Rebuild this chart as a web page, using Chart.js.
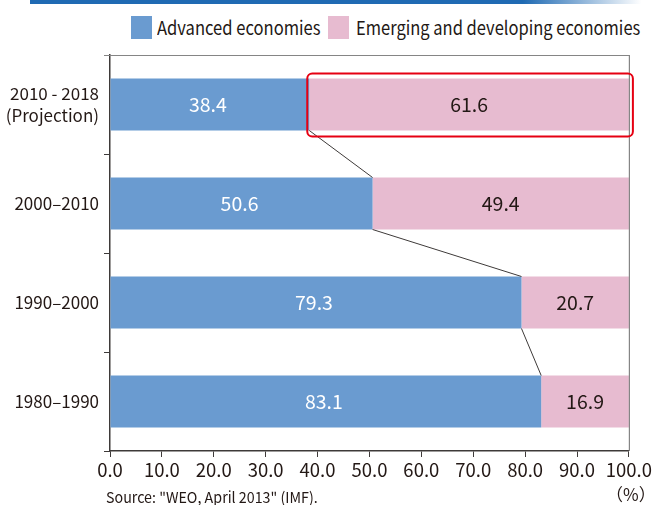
<!DOCTYPE html>
<html>
<head>
<meta charset="utf-8">
<title>GDP growth contribution</title>
<script src="https://cdn.jsdelivr.net/npm/chart.js@4.4.1/dist/chart.umd.min.js"></script>
<style>
  body { margin: 0; background: #fff; }
  #wrap {
    position: relative; width: 654px; height: 505px;
    font-family: "Noto Sans CJK JP", "Noto Sans", sans-serif;
    color: #231815;
  }
  #topbar {
    position: absolute; left: 30px; top: 0; width: 624px; height: 4px;
    background: linear-gradient(to right, #1f6ab3 0%, #1f6ab3 79%, #ffffff 98%);
  }
  .lg-box { position: absolute; top: 16px; width: 21px; height: 23px; }
  .fit { position: absolute; white-space: nowrap; transform-origin: 0 50%; }
  .lg-text { top: 14px; font-size: 19px; line-height: 26px; }
  #source { left: 106px; top: 487px; font-size: 15px; line-height: 20px; }
  #unit { position: absolute; left: 606px; top: 483px; font-size: 17px; line-height: 22px; }
  canvas { position: absolute; left: 0; top: 0; }
</style>
</head>
<body>
<div id="wrap">
  <div id="topbar"></div>
  <div class="lg-box" style="left:131px;background:#6a9bd0"></div>
  <div class="fit lg-text" style="left:157px" data-w="164">Advanced economies</div>
  <div class="lg-box" style="left:328px;background:#e7bbd0"></div>
  <div class="fit lg-text" style="left:356px" data-w="284">Emerging and developing economies</div>
  <canvas id="shareChart" width="654" height="505"></canvas>
  <div class="fit" id="source" data-w="212">Source: "WEO, April 2013" (IMF).</div>
  <div id="unit">（%）</div>
</div>
<script>
// share of world growth by group, per decade
const periods = [['2010 - 2018', '(Projection)'], '2000–2010', '1990–2000', '1980–1990'];
const advanced = [38.4, 50.6, 79.3, 83.1];
const emerging = [61.6, 49.4, 20.7, 16.9];

const blue = '#6a9bd0';
const pink = '#e7bbd0';
const ink = '#231815';
const axisColor = '#3e3a39';
const fontFamily = '"Noto Sans CJK JP", "Noto Sans", sans-serif';

Chart.defaults.font.family = fontFamily;
Chart.defaults.color = ink;

// squeeze the html captions to the narrow width of the print face
document.querySelectorAll('.fit').forEach(el => {
    const k = Number(el.dataset.w) / el.offsetWidth;
    el.style.transform = 'scaleX(' + k.toFixed(3) + ')';
});

// frame, connector lines, value labels and the highlight box
const decorPlugin = {
    id: 'decor',
    afterDatasetsDraw(chart) {
        const ctx = chart.ctx;
        const area = chart.chartArea;
        const adv = chart.getDatasetMeta(0).data;
        const emg = chart.getDatasetMeta(1).data;
        ctx.save();

        // top and right edge of the frame
        ctx.strokeStyle = '#858585';
        ctx.lineWidth = 1.2;
        ctx.beginPath();
        ctx.moveTo(area.left - 6, area.top + 0.5);
        ctx.lineTo(area.right + 0.5, area.top + 0.5);
        ctx.lineTo(area.right + 0.5, area.bottom);
        ctx.stroke();

        // lines joining the end of each blue bar to the next one
        ctx.strokeStyle = axisColor;
        ctx.lineWidth = 1;
        for (let i = 0; i < adv.length - 1; i++) {
            const a = adv[i], b = adv[i + 1];
            ctx.beginPath();
            ctx.moveTo(a.x, a.y + a.height / 2);
            ctx.lineTo(b.x, b.y - b.height / 2);
            ctx.stroke();
        }

        // values inside the bars
        ctx.font = '19.5px ' + fontFamily;
        ctx.textAlign = 'center';
        ctx.textBaseline = 'middle';
        adv.forEach((bar, i) => {
            ctx.fillStyle = '#ffffff';
            ctx.fillText(advanced[i].toFixed(1), (bar.base + bar.x) / 2 - 2, bar.y);
        });
        emg.forEach((bar, i) => {
            ctx.fillStyle = ink;
            ctx.fillText(emerging[i].toFixed(1), (bar.base + bar.x) / 2, bar.y);
        });

        // red rounded box round the projected emerging share
        const p = emg[0];
        const bx = p.base - 2, by = p.y - p.height / 2 - 5;
        const bw = p.x - p.base + 6, bh = p.height + 11;
        ctx.strokeStyle = '#e60012';
        ctx.lineWidth = 2;
        ctx.beginPath();
        ctx.roundRect(bx, by, bw, bh, 5);
        ctx.stroke();

        ctx.restore();
    }
};

const ctx = document.getElementById('shareChart').getContext('2d');
const shareChart = new Chart(ctx, {
    type: 'bar',
    data: {
        labels: periods,
        datasets: [
            { label: 'Advanced economies', data: advanced, backgroundColor: blue },
            { label: 'Emerging and developing economies', data: emerging, backgroundColor: pink }
        ]
    },
    options: {
        indexAxis: 'y',
        responsive: false,
        devicePixelRatio: 1,
        animation: false,
        layout: { padding: { top: 55, right: 24, bottom: 0, left: 0 } },
        datasets: {
            bar: { categoryPercentage: 1, barPercentage: 0.525, borderWidth: 0 }
        },
        plugins: {
            legend: { display: false },
            tooltip: { enabled: false }
        },
        scales: {
            x: {
                stacked: true,
                min: 0,
                max: 100,
                ticks: {
                    stepSize: 10,
                    padding: 2,
                    color: ink,
                    font: { size: 18.5 },
                    maxRotation: 0,
                    callback: v => v.toFixed(1)
                },
                grid: { drawOnChartArea: false, tickLength: 6, color: axisColor, lineWidth: 1 },
                border: { color: axisColor, width: 1.5 },
                afterFit: scale => { scale.height = 54; }
            },
            y: {
                stacked: true,
                ticks: {
                    padding: 5,
                    color: ink,
                    font: { size: 17, lineHeight: 1.3 }
                },
                grid: { drawOnChartArea: false, tickLength: 6, color: axisColor, lineWidth: 1 },
                border: { color: axisColor, width: 1.5 },
                afterFit: scale => { scale.width = 110; }
            }
        }
    },
    plugins: [decorPlugin]
});
</script>
</body>
</html>
